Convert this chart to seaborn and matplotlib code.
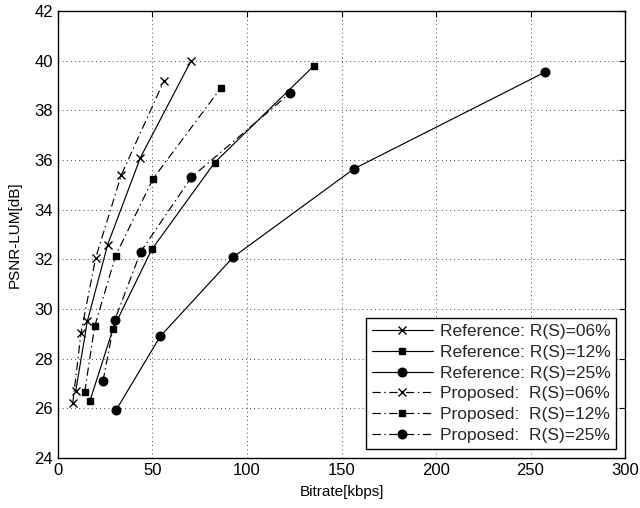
import matplotlib
matplotlib.use('Agg')
import matplotlib.pyplot as plt
import seaborn as sns
import pandas as pd

# Rate-distortion points
ref06_x = [9.4, 15.5, 26.3, 43.6, 70.4]
ref06_y = [26.7, 29.5, 32.6, 36.1, 40.0]
ref12_x = [16.9, 29.1, 49.6, 82.9, 135.4]
ref12_y = [26.3, 29.2, 32.4, 35.9, 39.8]
ref25_x = [30.9, 54.1, 92.8, 156.6, 257.8]
ref25_y = [25.95, 28.9, 32.1, 35.65, 39.55]
prop06_x = [7.8, 12.2, 19.9, 33.5, 56.1]
prop06_y = [26.2, 29.05, 32.05, 35.4, 39.2]
prop12_x = [14.1, 19.4, 30.5, 50.3, 86.1]
prop12_y = [26.65, 29.3, 32.15, 35.25, 38.9]
prop25_x = [23.8, 30.0, 43.7, 70.5, 122.8]
prop25_y = [27.1, 29.55, 32.3, 35.3, 38.7]

labels = ["Reference: R(S)=06%", "Reference: R(S)=12%", "Reference: R(S)=25%",
          "Proposed:  R(S)=06%", "Proposed:  R(S)=12%", "Proposed:  R(S)=25%"]
xs = [ref06_x, ref12_x, ref25_x, prop06_x, prop12_x, prop25_x]
ys = [ref06_y, ref12_y, ref25_y, prop06_y, prop12_y, prop25_y]

df = pd.concat([pd.DataFrame({"Bitrate": x, "PSNR": y, "series": lab})
                for x, y, lab in zip(xs, ys, labels)], ignore_index=True)

sns.set_theme(style="white")
plt.rcParams['font.family'] = ['Liberation Sans', 'DejaVu Sans']

fig = plt.figure(figsize=(6.4, 5.08), dpi=100)
ax = fig.add_axes([0.0906, 0.0984, 0.886, 0.8796])

markers = ["x", "s", "o", "x", "s", "o"]
msizes = [6, 5, 6.2, 6, 5, 6.2]
dashdot = (0, (7, 3, 1.2, 3))
styles = ["-", "-", "-", dashdot, dashdot, dashdot]

for lab, m, ms, ls in zip(labels, markers, msizes, styles):
    sub = df[df["series"] == lab]
    sns.lineplot(data=sub, x="Bitrate", y="PSNR", ax=ax, color="black",
                 linewidth=0.85, linestyle=ls, marker=m, markersize=ms,
                 markeredgecolor="black", markeredgewidth=1.0,
                 label=lab, sort=False, estimator=None)

ax.set_xlim(0, 300)
ax.set_ylim(24, 42)
ax.set_xticks(range(0, 301, 50))
ax.set_yticks(range(24, 43, 2))
ax.grid(True, linestyle=(0, (1, 4)), color="black", linewidth=0.6)
ax.tick_params(direction="in", top=True, right=True, length=4,
               labelsize=12, colors="black", width=0.8)
for s in ax.spines.values():
    s.set_color("black")
    s.set_linewidth(1.0)
ax.set_xlabel("Bitrate[kbps]", fontsize=11, labelpad=5, color="black")
ax.set_ylabel("PSNR-LUM[dB]", fontsize=11, labelpad=9, color="black")

leg = ax.legend(loc="lower right", fontsize=12.5, frameon=True, fancybox=False,
                edgecolor="black", framealpha=1, handlelength=3.5,
                borderpad=0.35, labelspacing=0.33, handletextpad=0.4,
                borderaxespad=0.5)
leg.get_frame().set_linewidth(1.0)

fig.savefig("out.png", dpi=100)
